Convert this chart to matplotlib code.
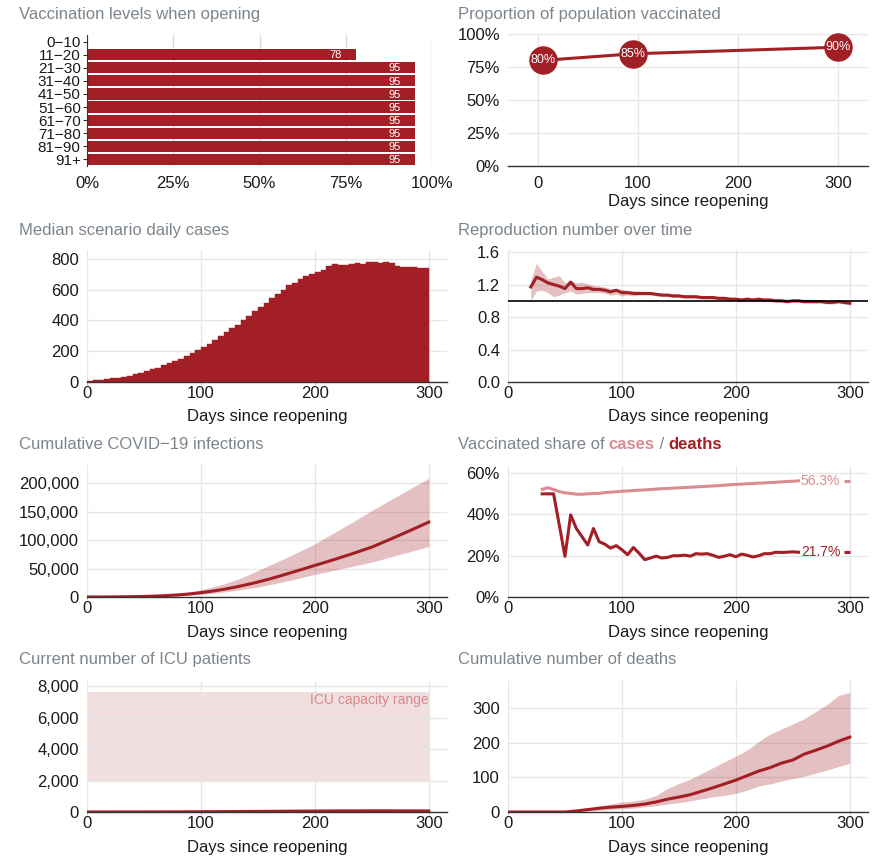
import numpy as np
import matplotlib
matplotlib.use("Agg")
import matplotlib.pyplot as plt
from matplotlib.ticker import FuncFormatter

plt.rcParams["font.family"] = ["Liberation Sans", "DejaVu Sans"]
plt.rcParams["font.size"] = 12

RED = "#a11f25"
LIGHT = "#d98c90"
GRAY_TITLE = "#7d858c"
GRID = "#e6e6e6"
AXIS = "#333333"
TXT = "#1a1a1a"

# ---- data -------------------------------------------------------------
age_groups = ["0\u221210", "11\u221220", "21\u221230", "31\u221240", "41\u221250",
              "51\u221260", "61\u221270", "71\u221280", "81\u221290", "91+"]
age_vacc_pct = [0, 78, 95, 95, 95, 95, 95, 95, 95, 95]

vacc_days = [5, 95, 300]
vacc_pct = [80, 85, 90]

case_bin_start = np.arange(0, 300, 5)
daily_cases = [8, 11, 14, 18, 23, 28, 34, 42, 51, 60,
               70, 82, 94, 108, 122, 138, 152, 170, 188, 208,
               228, 250, 272, 300, 322, 348, 372, 400, 430, 460,
               488, 512, 548, 572, 600, 628, 645, 668, 690, 705,
               718, 728, 757, 767, 762, 762, 765, 772, 767, 778,
               782, 772, 783, 772, 757, 750, 746, 745, 740, 738]

r_days = np.arange(20, 301, 5)
r_med = [1.17, 1.29, 1.26, 1.22, 1.20, 1.18, 1.15, 1.23, 1.15, 1.15,
         1.16, 1.14, 1.14, 1.13, 1.11, 1.13, 1.10, 1.10, 1.09, 1.09,
         1.09, 1.09, 1.08, 1.07, 1.07, 1.06, 1.06, 1.05, 1.05, 1.05,
         1.04, 1.04, 1.04, 1.03, 1.03, 1.02, 1.02, 1.01, 1.02, 1.01,
         1.02, 1.01, 1.01, 1.00, 1.00, 0.99, 1.00, 1.00, 0.99, 0.99,
         0.99, 0.99, 0.98, 0.98, 0.99, 0.98, 0.97]
r_hi = [1.25, 1.46, 1.36, 1.27, 1.29, 1.31, 1.22, 1.25, 1.22, 1.23,
        1.21, 1.19, 1.18, 1.17, 1.15, 1.15, 1.14, 1.13, 1.12, 1.12,
        1.11, 1.11, 1.10, 1.09, 1.09, 1.08, 1.08, 1.07, 1.07, 1.07,
        1.06, 1.06, 1.06, 1.05, 1.05, 1.04, 1.04, 1.03, 1.04, 1.03,
        1.03, 1.03, 1.02, 1.02, 1.02, 1.01, 1.01, 1.01, 1.00, 1.00,
        1.00, 1.00, 0.99, 0.99, 1.00, 0.99, 0.98]
r_lo = [1.00, 1.12, 1.13, 1.10, 1.05, 1.07, 1.10, 1.12, 1.08, 1.09,
        1.10, 1.10, 1.10, 1.09, 1.07, 1.08, 1.06, 1.07, 1.06, 1.07,
        1.07, 1.07, 1.06, 1.05, 1.05, 1.04, 1.04, 1.03, 1.03, 1.03,
        1.02, 1.02, 1.02, 1.01, 1.01, 1.00, 1.00, 0.99, 1.00, 0.99,
        1.00, 0.99, 0.99, 0.98, 0.98, 0.97, 0.98, 0.98, 0.97, 0.97,
        0.97, 0.97, 0.96, 0.96, 0.97, 0.96, 0.95]

days10 = np.arange(0, 301, 10)
inf_med = [0, 50, 150, 320, 600, 1000, 1600, 2500, 3700, 5300,
           7600, 10300, 13500, 17300, 21600, 26300, 31500, 37300, 43300, 49400,
           55500, 61500, 67800, 74200, 80900, 87700, 96200, 104800, 113600, 122500,
           131600]
inf_hi = [0, 60, 200, 450, 850, 1500, 2500, 4000, 6000, 9000,
          13000, 17500, 23000, 29500, 37500, 46500, 55500, 64500, 74000, 83500,
          93500, 105000, 116500, 128000, 140000, 152000, 163500, 175000, 186000, 197500,
          208500]
inf_lo = [0, 40, 110, 220, 400, 650, 1000, 1500, 2300, 3400,
          4700, 6500, 8800, 11300, 14300, 17500, 21500, 25800, 30200, 35000,
          39800, 44000, 48300, 52600, 57000, 61400, 66800, 72500, 77800, 83300,
          88900]

share_days = np.arange(30, 256, 5)
share_cases = [52.2, 53.0, 52.1, 51.1, 50.5, 50.2, 49.8, 49.8, 50.0, 50.2,
               50.2, 50.6, 50.8, 51.0, 51.3, 51.4, 51.6, 51.8, 51.9, 52.1,
               52.3, 52.5, 52.6, 52.8, 52.9, 53.1, 53.2, 53.4, 53.5, 53.7,
               53.8, 54.0, 54.2, 54.4, 54.6, 54.7, 54.9, 55.0, 55.2, 55.3,
               55.5, 55.6, 55.8, 56.0, 56.1, 56.3]
share_deaths = [50.0, 50.0, 50.0, 35.0, 19.7, 39.8, 33.2, 29.2, 25.2, 33.2,
                26.8, 25.6, 23.7, 24.9, 22.9, 20.5, 24.0, 21.3, 18.1, 18.9,
                19.8, 18.9, 19.2, 20.0, 20.0, 20.3, 19.8, 21.0, 20.8, 21.0,
                20.2, 19.2, 19.8, 20.5, 19.5, 20.8, 20.2, 19.4, 20.0, 21.0,
                21.0, 21.7, 21.6, 21.7, 21.9, 21.7]

icu_med = [2, 2, 3, 3, 4, 5, 6, 8, 10, 13, 16, 20, 24, 28, 33, 38, 43, 48, 53, 58,
           62, 66, 70, 72, 74, 75, 75, 74, 72, 70, 68]
icu_hi = [3, 4, 5, 6, 8, 10, 13, 17, 22, 28, 35, 43, 52, 61, 71, 82, 93, 104, 115, 125,
          134, 142, 150, 156, 160, 162, 163, 162, 160, 157, 153]
icu_lo = [1, 1, 1, 1, 2, 2, 3, 4, 5, 6, 7, 9, 11, 13, 15, 17, 19, 21, 23, 25,
          27, 29, 30, 31, 32, 33, 33, 32, 31, 30, 29]
icu_capacity = (2000, 7600)

deaths_med = [0, 0, 0, 0, 0, 0, 3, 7, 11, 14, 16, 19, 23, 29, 37, 43, 50, 60, 70, 81,
              92, 105, 118, 128, 141, 150, 167, 178, 190, 204, 216]
deaths_hi = [0, 0, 0, 0, 0, 1, 4, 10, 17, 23, 29, 32, 37, 48, 68, 82, 95, 111, 128, 145,
             161, 179, 203, 225, 239, 254, 269, 290, 310, 336, 345]
deaths_lo = [0, 0, 0, 0, 0, 0, 1, 3, 5, 7, 9, 11, 15, 18, 23, 27, 32, 38, 44, 48,
             54, 63, 75, 81, 89, 97, 103, 112, 121, 131, 140]

# ---- figure -----------------------------------------------------------
W, H = 881, 858
fig = plt.figure(figsize=(W / 100, H / 100), dpi=100)


def axes_px(x0, y0, x1, y1):
    return fig.add_axes([x0 / W, 1 - y1 / H, (x1 - x0) / W, (y1 - y0) / H])


def title_px(x, y, s, **kw):
    fig.text(x / W, 1 - y / H, s, ha="left", va="baseline", color=GRAY_TITLE,
             fontsize=12, **kw)


def xlabel_px(ax, y):
    pos = ax.get_position()
    fig.text(pos.x0 + pos.width / 2, 1 - y / H, "Days since reopening",
             ha="center", va="baseline", color=TXT, fontsize=12)


def style_time(ax, ylim, yticks, fmt, xlim=(0, 316)):
    ax.set_xlim(*xlim)
    ax.set_ylim(*ylim)
    ax.set_xticks([0, 100, 200, 300])
    ax.set_yticks(yticks)
    ax.yaxis.set_major_formatter(FuncFormatter(fmt))
    for s in ("top", "right", "left"):
        ax.spines[s].set_visible(False)
    ax.spines["bottom"].set_color(AXIS)
    ax.spines["bottom"].set_linewidth(1.0)
    ax.grid(True, color=GRID, linewidth=1.0)
    ax.set_axisbelow(True)
    ax.tick_params(axis="x", length=2.5, color="#c8c8c8", pad=0.5,
                   labelsize=12, labelcolor=TXT)
    ax.tick_params(axis="y", length=0, pad=5.8, labelsize=12, labelcolor=TXT)


# 1. vaccination by age group
ax1 = axes_px(87, 35, 432, 166)
ypos = np.arange(len(age_groups))
ax1.barh(ypos, [v / 100 for v in age_vacc_pct], height=0.86, color=RED)
for i, v in enumerate(age_vacc_pct):
    if v > 0:
        ax1.annotate(str(v), xy=(v / 100, i), xytext=(-10, -0.5),
                     textcoords="offset points", ha="right", va="center",
                     color="white", fontsize=8)
ax1.set_ylim(len(age_groups) - 0.5, -0.5)
ax1.set_xlim(0, 1.0)
ax1.set_yticks(ypos)
ax1.set_yticklabels(age_groups)
ax1.set_xticks([0, 0.25, 0.5, 0.75, 1.0])
ax1.set_xticklabels(["0%", "25%", "50%", "75%", "100%"])
for s in ("top", "right", "bottom"):
    ax1.spines[s].set_visible(False)
ax1.spines["left"].set_color(AXIS)
ax1.grid(True, axis="x", color="#dcdcdc", linewidth=1.0)
ax1.set_axisbelow(True)
ax1.tick_params(axis="y", length=3, color=AXIS, pad=1.5, labelsize=11,
                labelcolor=TXT)
ax1.tick_params(axis="x", length=0, pad=7, labelsize=12, labelcolor=TXT)
title_px(19, 19, "Vaccination levels when opening")

# 2. proportion of population vaccinated
ax2 = axes_px(508, 34, 868, 166)
ax2.plot(vacc_days, [v / 100 for v in vacc_pct], color=RED, lw=2.2,
         marker="o", markersize=19.5, clip_on=False, zorder=3)
for d, v in zip(vacc_days, vacc_pct):
    ax2.text(d, v / 100, f"{v}%", ha="center", va="center", color="white",
             fontsize=9, zorder=4)
style_time(ax2, (0, 1.0), [0, 0.25, 0.5, 0.75, 1.0],
           lambda v, p: f"{v * 100:.0f}%", xlim=(-30, 330))
ax2.tick_params(axis="x", length=0, pad=7)
title_px(458, 19, "Proportion of population vaccinated")
xlabel_px(ax2, 206)

# 3. median scenario daily cases
ax3 = axes_px(87, 250, 447, 382)
ax3.bar(case_bin_start, daily_cases, width=5, align="edge", color=RED,
        edgecolor=RED, linewidth=0.3)
style_time(ax3, (0, 858), [0, 200, 400, 600, 800], lambda v, p: f"{v:.0f}")
title_px(19, 235, "Median scenario daily cases")
xlabel_px(ax3, 421)

# 4. reproduction number
ax4 = axes_px(508, 250, 868, 382)
ax4.fill_between(r_days, r_lo, r_hi, color=RED, alpha=0.28, lw=0)
ax4.plot(r_days, r_med, color=RED, lw=2.2)
ax4.axhline(1.0, color="black", lw=1.2)
style_time(ax4, (0, 1.625), [0, 0.4, 0.8, 1.2, 1.6], lambda v, p: f"{v:.1f}")
title_px(458, 235, "Reproduction number over time")
xlabel_px(ax4, 421)

# 5. cumulative infections
ax5 = axes_px(87, 465, 447, 597)
ax5.fill_between(days10, inf_lo, inf_hi, color=RED, alpha=0.28, lw=0)
ax5.plot(days10, inf_med, color=RED, lw=2.2)
style_time(ax5, (0, 232000), [0, 50000, 100000, 150000, 200000],
           lambda v, p: f"{v:,.0f}")
title_px(19, 449, "Cumulative COVID\u221219 infections")
xlabel_px(ax5, 637)

# 6. vaccinated share of cases / deaths
ax6 = axes_px(508, 466, 868, 597)
ax6.plot(share_days, share_cases, color=LIGHT, lw=2.2)
ax6.plot(share_days, share_deaths, color=RED, lw=2.2)
for series, col in ((share_cases, LIGHT), (share_deaths, RED)):
    last = series[-1]
    ax6.text(share_days[-1] + 2, last, f"{last:.1f}%", ha="left", va="center",
             color=col, fontsize=10)
    ax6.plot([295, 300], [last, last], color=col, lw=2.2,
             solid_capstyle="butt")
style_time(ax6, (0, 63.5), [0, 20, 40, 60], lambda v, p: f"{v:.0f}%")
xlabel_px(ax6, 637)

# multi-coloured title for panel 6
renderer = fig.canvas.get_renderer()
pieces = [("Vaccinated share of ", GRAY_TITLE, "normal"),
          ("cases", LIGHT, "bold"),
          (" / ", GRAY_TITLE, "normal"),
          ("deaths", RED, "bold")]
x_cur = 458
for txt, col, wt in pieces:
    fig.text(x_cur / W, 1 - 449 / H, txt, ha="left", va="baseline", color=col,
             fontsize=12, fontweight=wt)
    probe_a = fig.text(0, 0, "A" + txt + "A", fontsize=12, fontweight=wt)
    probe_b = fig.text(0, 0, "AA", fontsize=12, fontweight=wt)
    w = (probe_a.get_window_extent(renderer).width
         - probe_b.get_window_extent(renderer).width)
    probe_a.remove()
    probe_b.remove()
    x_cur += w + 1.0

# 7. ICU patients
ax7 = axes_px(87, 681, 447, 812)
ax7.fill_between([0, 300], icu_capacity[0], icu_capacity[1],
                 color="#f1dfe0", lw=0, zorder=0.5)
ax7.text(300, 7100, "ICU capacity range", ha="right", va="center",
         color="#d8878b", fontsize=10)
ax7.fill_between(days10, icu_lo, icu_hi, color=RED, alpha=0.28, lw=0)
ax7.plot(days10, icu_med, color=RED, lw=2.2)
style_time(ax7, (0, 8320), [0, 2000, 4000, 6000, 8000],
           lambda v, p: f"{v:,.0f}")
title_px(19, 664, "Current number of ICU patients")
xlabel_px(ax7, 852)

# 8. cumulative deaths
ax8 = axes_px(508, 681, 868, 812)
ax8.fill_between(days10, deaths_lo, deaths_hi, color=RED, alpha=0.28, lw=0)
ax8.plot(days10, deaths_med, color=RED, lw=2.2)
style_time(ax8, (0, 378), [0, 100, 200, 300], lambda v, p: f"{v:.0f}")
title_px(458, 664, "Cumulative number of deaths")
xlabel_px(ax8, 852)

fig.savefig("out.png", dpi=100)
